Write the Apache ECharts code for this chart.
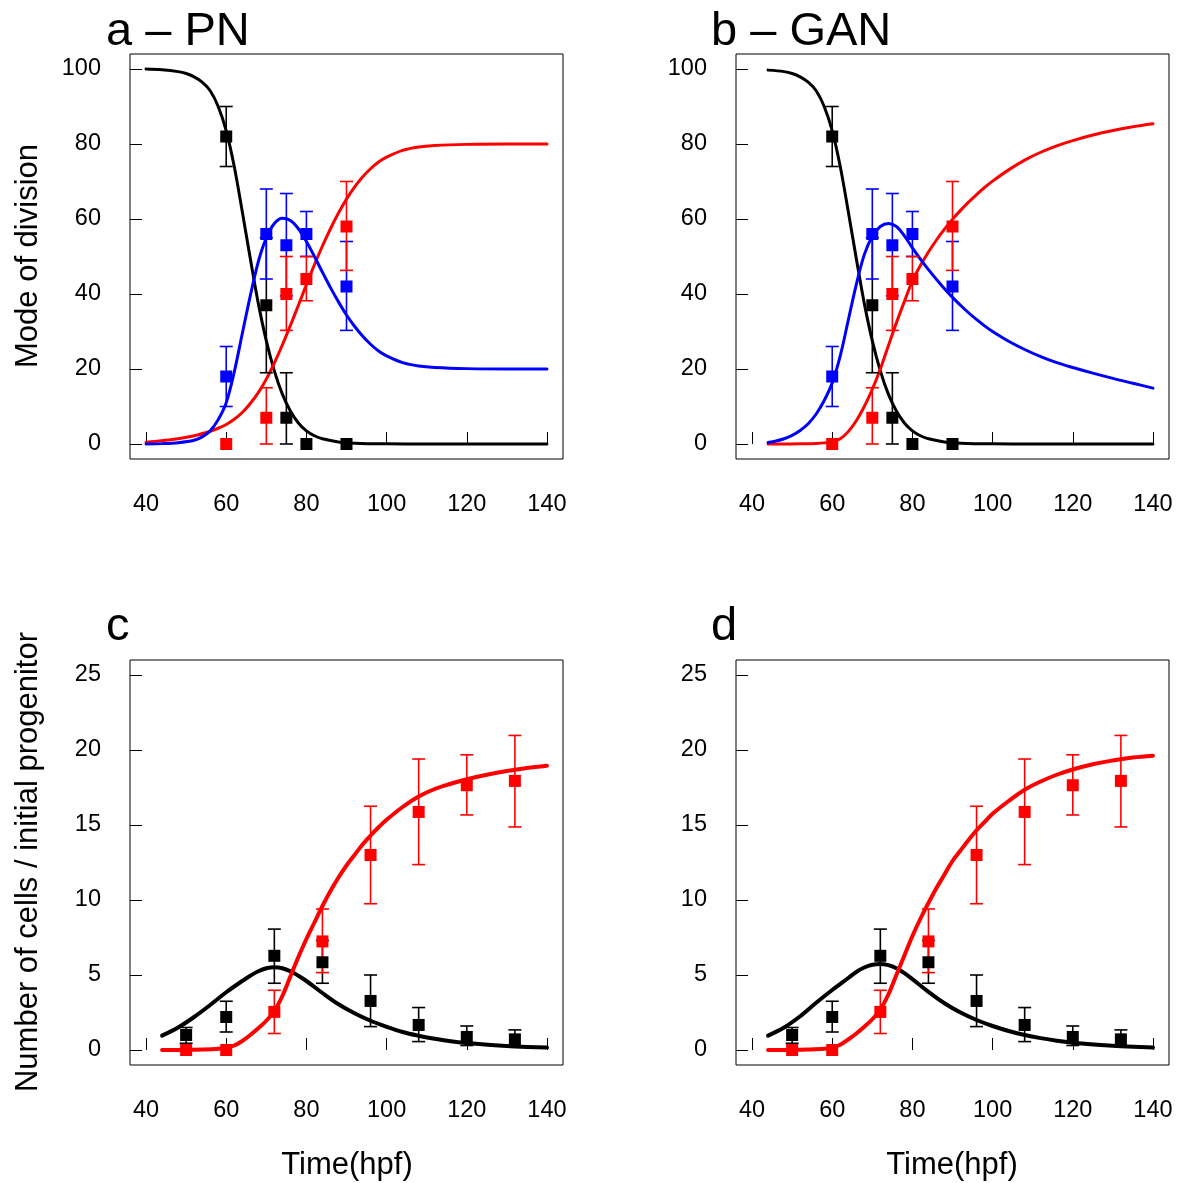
<!DOCTYPE html>
<html>
<head>
<meta charset="utf-8">
<script src="https://cdn.jsdelivr.net/npm/echarts@6/dist/echarts.min.js"></script>
<style>
html,body{margin:0;padding:0;background:#fff;}
#chart{width:1182px;height:1183px;}
</style>
</head>
<body>
<div id="chart"></div>
<script>
// ---------------- DATA ----------------
// Tick labels
const xTicks = [40, 60, 80, 100, 120, 140];
const yTicksMode = [0, 20, 40, 60, 80, 100];
const yTicksCells = [0, 5, 10, 15, 20, 25];

// Panels a/b : measured mode of division (%)
const modeX = [60, 70, 75, 80, 90];
const modeBlackMean = [82, 37, 7, 0, 0];
const modeBlackLo   = [74, 19, 0, null, null];
const modeBlackHi   = [90, 55, 19, null, null];
const modeBlueMean  = [18, 56, 53, 56, 42];
const modeBlueLo    = [10, 44, 39.5, 50, 30.3];
const modeBlueHi    = [26, 68, 66.8, 62, 54];
const modeRedMean   = [0, 7, 40, 44, 58];
const modeRedLo     = [null, 0, 30.3, 38.2, 46.3];
const modeRedHi     = [null, 15, 50, 50, 70];

// Panel a (PN) model curves
const aBlackX = [40,44,48,50,52,54,56,58,60,62,64,66,68,70,72,74,76,78,80,82,84,88,92,100,110,140];
const aBlackY = [100,99.8,99.3,98.8,97.9,96.5,94.2,90.0,83.5,74,62,49.5,37.5,27.5,19.5,13.3,8.8,5.6,3.5,2.2,1.4,0.55,0.22,0.04,0,0];
const aRedX = [40,44,48,52,56,58,60,62,64,66,68,70,72,74,76,78,80,82,84,86,88,90,92,94,96,98,100,104,108,112,120,130,140];
const aRedY = [0.5,0.9,1.4,2.2,3.4,4.2,5.2,6.6,8.4,10.8,13.7,17.3,21.6,26.4,31.6,37,42.5,47.8,52.8,57.4,61.6,65.3,68.5,71.2,73.4,75.2,76.5,78.3,79.2,79.6,79.9,80,80];
const aBlueX = [40,44,48,52,54,56,58,60,62,64,66,68,70,72,74,76,78,80,82,84,86,88,90,92,94,96,98,100,104,108,112,120,130,140];
const aBlueY = [0,0.1,0.35,1.0,1.9,3.5,6.5,11,19.2,29.4,39.5,48.6,55,58.8,60.2,59.6,57.4,54,50,45.8,41.7,37.9,34.4,31.4,28.8,26.6,24.8,23.5,21.7,20.8,20.4,20.1,20,20];

// Panel b (GAN) model curves
const bBlackX = [44,48,50,52,54,56,58,60,62,64,66,68,70,72,74,76,78,80,82,84,88,92,100,110,140];
const bBlackY = [99.7,99.3,98.8,97.9,96.5,94.2,90,83.5,74,62,49.5,37.5,27.5,19.5,13.3,8.8,5.6,3.5,2.2,1.4,0.55,0.22,0.04,0,0];
const bRedX = [44,48,52,56,58,60,62,64,66,68,70,72,74,76,78,80,82,84,86,88,90,92,94,96,98,100,104,108,112,116,120,125,130,135,140];
const bRedY = [0,0,0.05,0.15,0.3,0.6,1.4,3.3,6.2,10,14.6,20,26.2,32.3,38,43.5,47.6,51.2,54.4,57.3,59.9,62.3,64.5,66.5,68.4,70.1,73.1,75.7,77.8,79.5,80.9,82.4,83.6,84.6,85.4];
const bBlueX = [44,46,48,50,52,54,56,58,60,62,64,66,68,70,72,74,76,78,80,82,84,86,88,90,92,94,96,98,100,104,108,112,116,120,125,130,135,140];
const bBlueY = [0.4,0.8,1.4,2.3,3.6,5.4,8,11.6,16.3,23.5,33,42.5,50.5,55.4,58,58.8,58,55.5,52.3,49.3,46.5,43.9,41.4,39.1,37,35,33.2,31.5,30,27.4,25.2,23.3,21.7,20.4,18.9,17.5,16.2,14.9];

// Panels c/d : measured number of cells / initial progenitor
const cellX = [50, 60, 72, 84, 96, 108, 120, 132];
const cellRedMean = [0, 0, 2.54, 7.24, 13, 15.87, 17.65, 17.94];
const cellRedLo   = [null, null, 1.1, 5.16, 9.75, 12.36, 15.67, 14.87];
const cellRedHi   = [null, null, 3.98, 9.4, 16.25, 19.4, 19.68, 20.97];
const cellBlackMean = [1.0, 2.2, 6.28, 5.85, 3.27, 1.67, 0.87, 0.71];
const cellBlackLo   = [0.45, 1.2, 4.45, 4.45, 1.56, 0.56, 0.3, 0.2];
const cellBlackHi   = [1.5, 3.25, 8.06, 7.3, 5.0, 2.83, 1.6, 1.34];

// Panel c (PN) model curves
const cBlackX = [44,48,52,56,60,64,66,68,70,72,74,76,78,80,84,88,92,96,100,104,108,112,116,120,126,132,140];
const cBlackY = [0.96,1.5,2.2,3.0,3.85,4.6,4.95,5.25,5.45,5.52,5.45,5.25,4.95,4.6,3.8,3.05,2.45,1.95,1.55,1.2,0.95,0.75,0.58,0.46,0.33,0.24,0.16];
const cRedX = [44,50,54,58,60,62,64,66,68,70,72,74,76,78,80,82,84,86,88,90,92,94,96,98,100,104,108,112,116,120,125,130,135,140];
const cRedY = [0,0.01,0.03,0.08,0.15,0.3,0.6,1.0,1.45,1.95,2.6,3.6,4.9,6.2,7.4,8.5,9.6,10.6,11.5,12.3,13.0,13.7,14.3,14.85,15.35,16.2,16.9,17.4,17.75,18.05,18.35,18.6,18.8,18.95];

// Panel d (GAN) model curves
const dBlackX = [44,48,52,56,60,64,66,68,70,72,74,76,78,80,84,88,92,96,100,104,108,112,116,120,126,132,140];
const dBlackY = [0.96,1.5,2.25,3.15,4.0,4.8,5.2,5.5,5.68,5.74,5.66,5.45,5.12,4.72,3.88,3.12,2.5,2.0,1.6,1.27,1.0,0.79,0.62,0.49,0.35,0.25,0.16];
const dRedX = [44,50,54,58,60,62,64,66,68,70,72,74,76,78,80,82,84,86,88,90,92,94,96,98,100,104,108,112,116,120,125,130,135,140];
const dRedY = [0,0.01,0.03,0.08,0.16,0.35,0.7,1.1,1.55,2.05,2.7,3.7,5.0,6.3,7.6,8.75,9.8,10.8,11.7,12.6,13.3,14.0,14.65,15.2,15.75,16.6,17.35,17.9,18.35,18.7,19.05,19.3,19.5,19.62];

// Text
const panelTitles = ['a \u2013 PN', 'b \u2013 GAN', 'c', 'd'];
const yNameTop = 'Mode of division';
const yNameBottom = 'Number of cells / initial progenitor';
const xName = 'Time(hpf)';

// ---------------- CHART ----------------
const FONT = '"Liberation Sans", Arial, Helvetica, sans-serif';
const BLACK = '#000000', RED = '#ff0000', BLUE = '#0000ff';
const TICK_FS = 23.5;

const grids = [
  {left: 130, top: 54, width: 433, height: 405},
  {left: 736, top: 54, width: 433, height: 405},
  {left: 130, top: 660, width: 433, height: 405},
  {left: 736, top: 660, width: 433, height: 405}
].map(g => Object.assign(g, {show: true, borderColor: '#000', borderWidth: 1, backgroundColor: 'transparent', containLabel: false}));

function xAxis(i) {
  return {
    type: 'value', gridIndex: i, min: 36, max: 144,
    axisLine: {show: false}, splitLine: {show: false},
    axisTick: {show: true, inside: true, length: 12, customValues: xTicks, lineStyle: {color: '#000', width: 1}},
    axisLabel: {show: true, customValues: xTicks, margin: 34, fontSize: TICK_FS, color: '#000', fontFamily: FONT}
  };
}
function yAxis(i, min, max, ticks) {
  return {
    type: 'value', gridIndex: i, min: min, max: max,
    axisLine: {show: false}, splitLine: {show: false},
    axisTick: {show: true, inside: true, length: 12, customValues: ticks, lineStyle: {color: '#000', width: 1}},
    axisLabel: {show: true, customValues: ticks, margin: 29, fontSize: TICK_FS, color: '#000', fontFamily: FONT}
  };
}

function zip(xs, ys) { return xs.map((x, k) => [x, ys[k]]); }

function curve(i, xs, ys, color, w) {
  return {
    type: 'line', xAxisIndex: i, yAxisIndex: i, data: zip(xs, ys),
    smooth: 0.35, showSymbol: false, symbol: 'none',
    lineStyle: {color: color, width: w, cap: 'round', join: 'round'}, z: 2, silent: true, clip: true
  };
}
function points(i, xs, ys, color) {
  return {
    type: 'scatter', xAxisIndex: i, yAxisIndex: i, data: zip(xs, ys),
    symbol: 'rect', symbolSize: 12, itemStyle: {color: color, opacity: 1}, z: 4, silent: true
  };
}
function errbars(i, xs, lo, hi, color) {
  const data = [];
  xs.forEach((x, k) => { if (lo[k] !== null && hi[k] !== null) data.push([x, lo[k], hi[k]]); });
  return {
    type: 'custom', xAxisIndex: i, yAxisIndex: i, coordinateSystem: 'cartesian2d', z: 3, silent: true,
    data: data,
    encode: {x: 0, y: [1, 2]},
    renderItem: function (params, api) {
      const x = api.value(0), l = api.value(1), h = api.value(2);
      const p1 = api.coord([x, l]), p2 = api.coord([x, h]);
      const hw = 6.5;
      const st = {stroke: color, lineWidth: 1.6};
      return {
        type: 'group',
        children: [
          {type: 'line', shape: {x1: p1[0], y1: p1[1], x2: p2[0], y2: p2[1]}, style: st},
          {type: 'line', shape: {x1: p1[0] - hw, y1: p1[1], x2: p1[0] + hw, y2: p1[1]}, style: st},
          {type: 'line', shape: {x1: p2[0] - hw, y1: p2[1], x2: p2[0] + hw, y2: p2[1]}, style: st}
        ]
      };
    }
  };
}

const series = [];
series.push(curve(0, aBlackX, aBlackY, BLACK, 3));
series.push(curve(0, aRedX, aRedY, RED, 3));
series.push(curve(0, aBlueX, aBlueY, BLUE, 3));
series.push(curve(1, bBlackX, bBlackY, BLACK, 3));
series.push(curve(1, bRedX, bRedY, RED, 3));
series.push(curve(1, bBlueX, bBlueY, BLUE, 3));
[0, 1].forEach(i => {
  series.push(errbars(i, modeX, modeBlackLo, modeBlackHi, BLACK));
  series.push(errbars(i, modeX, modeBlueLo, modeBlueHi, BLUE));
  series.push(errbars(i, modeX, modeRedLo, modeRedHi, RED));
  series.push(points(i, modeX, modeBlackMean, BLACK));
  series.push(points(i, modeX, modeBlueMean, BLUE));
  series.push(points(i, modeX, modeRedMean, RED));
});
series.push(curve(2, cBlackX, cBlackY, BLACK, 4));
series.push(curve(2, cRedX, cRedY, RED, 4));
series.push(curve(3, dBlackX, dBlackY, BLACK, 4));
series.push(curve(3, dRedX, dRedY, RED, 4));
[2, 3].forEach(i => {
  series.push(errbars(i, cellX, cellBlackLo, cellBlackHi, BLACK));
  series.push(errbars(i, cellX, cellRedLo, cellRedHi, RED));
  series.push(points(i, cellX, cellBlackMean, BLACK));
  series.push(points(i, cellX, cellRedMean, RED));
});

function txt(text, x, y, size) {
  return {
    type: 'text', x: x, y: y, silent: true,
    style: {text: text, font: size + 'px ' + FONT, fill: '#000', textAlign: 'left', textVerticalAlign: 'top'}
  };
}
function ctxt(text, x, y, rot) {
  return {
    type: 'text', x: x, y: y, rotation: rot, silent: true,
    style: {text: text, font: '31px ' + FONT, fill: '#000', textAlign: 'center', textVerticalAlign: 'middle'}
  };
}

const graphic = [
  txt(panelTitles[0], 106, 9, 47),
  txt(panelTitles[1], 711, 9, 47),
  txt(panelTitles[2], 106, 604, 47),
  txt(panelTitles[3], 711, 604, 47),
  ctxt(yNameTop, 28, 256, Math.PI / 2),
  ctxt(yNameBottom, 28, 862, Math.PI / 2),
  ctxt(xName, 347, 1165, 0),
  ctxt(xName, 952, 1165, 0)
];

const chart = echarts.init(document.getElementById('chart'), null, {renderer: 'canvas'});
chart.setOption({
  animation: false,
  backgroundColor: '#ffffff',
  grid: grids,
  xAxis: [0, 1, 2, 3].map(xAxis),
  yAxis: [
    yAxis(0, -4, 104, yTicksMode),
    yAxis(1, -4, 104, yTicksMode),
    yAxis(2, -1, 26, yTicksCells),
    yAxis(3, -1, 26, yTicksCells)
  ],
  series: series,
  graphic: graphic
});
</script>
</body>
</html>
